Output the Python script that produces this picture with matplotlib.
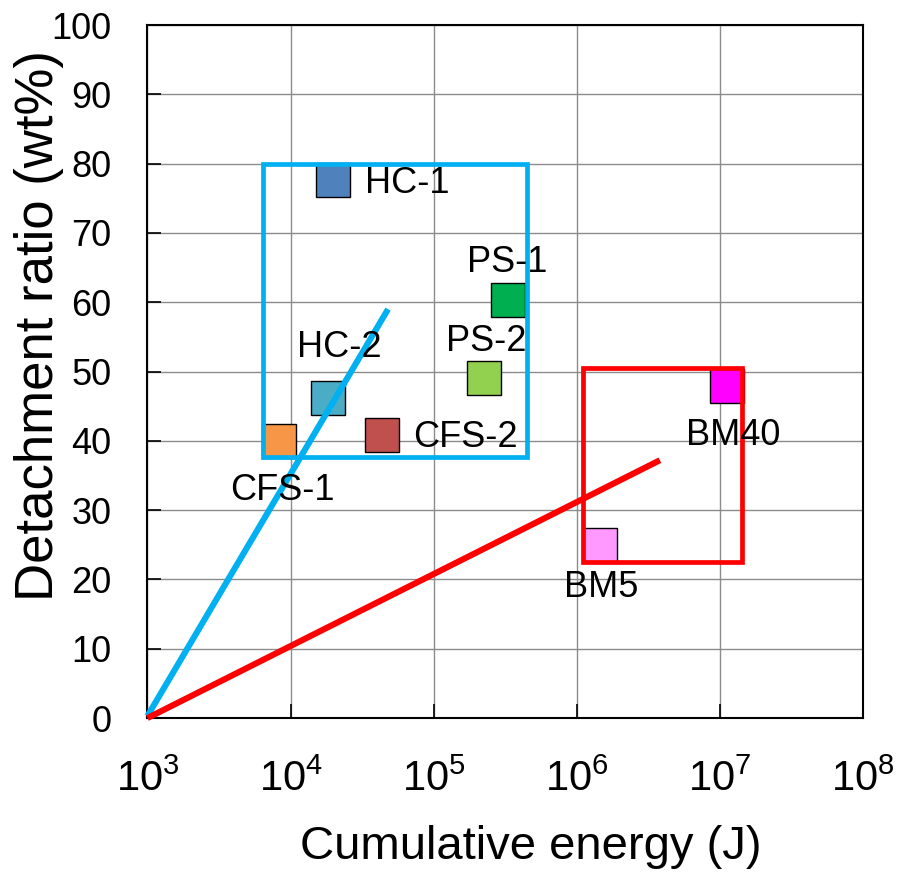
import matplotlib
matplotlib.use("Agg")
import matplotlib.pyplot as plt
from matplotlib.patches import Rectangle
from matplotlib.ticker import FixedLocator, NullLocator

plt.rcParams['font.family'] = ['Liberation Sans', 'DejaVu Sans']
plt.rcParams['mathtext.fontset'] = 'custom'
plt.rcParams['mathtext.rm'] = 'Liberation Sans'
plt.rcParams['mathtext.it'] = 'Liberation Sans'

# Data
samples = ["HC-1", "PS-1", "PS-2", "HC-2", "CFS-2", "CFS-1", "BM40", "BM5"]
energy = [1.99e4, 3.30e5, 2.26e5, 1.84e4, 4.35e4, 8.3e3, 1.13e7, 1.45e6]
ratio = [77.6, 60.3, 49.1, 46.2, 40.9, 40.0, 47.9, 24.9]
colors = ["#4F81BD", "#00B050", "#92D050", "#4BACC6", "#C0504D", "#F79646", "#FF00FF", "#FF99FF"]

label_x = [3.3e4, 3.25e5, 2.32e5, 2.18e4, 7.16e4, 8.7e3, 1.23e7, 1.48e6]
label_y = [77.2, 65.8, 54.3, 53.5, 40.5, 32.9, 40.8, 18.8]
label_ha = ["left", "center", "center", "center", "left", "center", "center", "center"]

blue_line_x = [1.0e3, 4.8e4]
blue_line_y = [0.3, 59.0]
red_line_x = [1.0e3, 3.81e6]
red_line_y = [0.0, 37.2]

blue_box = (6.38e3, 4.47e5, 37.6, 80.0)   # x0, x1, y0, y1
red_box = (1.10e6, 1.42e7, 22.55, 50.5)

xticks = [1e3, 1e4, 1e5, 1e6, 1e7, 1e8]
xticklabels = [r"$\mathdefault{10^{3}}$", r"$\mathdefault{10^{4}}$", r"$\mathdefault{10^{5}}$",
               r"$\mathdefault{10^{6}}$", r"$\mathdefault{10^{7}}$", r"$\mathdefault{10^{8}}$"]
yticks = list(range(0, 101, 10))

fig = plt.figure(figsize=(9.08, 8.75), dpi=100)
ax = fig.add_axes([0.1624, 0.1794, 0.788, 0.792])
ax.set_xscale("log")
ax.set_xlim(1e3, 1e8)
ax.set_ylim(0, 100)

ax.grid(True, color="#8c8c8c", linewidth=1.0, zorder=0)
ax.set_axisbelow(True)

for e, r, c in zip(energy, ratio, colors):
    ax.plot([e], [r], marker="s", markersize=24.5, markerfacecolor=c,
            markeredgecolor="black", markeredgewidth=1.0, linestyle="none", zorder=3)

for bx, col in ((blue_box, "#00B0F0"), (red_box, "#FF0000")):
    x0, x1, y0, y1 = bx
    rect = Rectangle((x0, y0), x1 - x0, y1 - y0, fill=False, edgecolor=col,
                     linewidth=3.4, zorder=4, joinstyle="miter")
    ax.add_patch(rect)

ax.plot(blue_line_x, blue_line_y, color="#00B0F0", linewidth=4.4, zorder=5,
        solid_capstyle="butt", clip_on=False)
ax.plot(red_line_x, red_line_y, color="#FF0000", linewidth=4.4, zorder=5,
        solid_capstyle="butt", clip_on=False)

for s, lx, ly, ha in zip(samples, label_x, label_y, label_ha):
    ax.text(lx, ly, s, fontsize=26, ha=ha, va="center", zorder=6)

ax.xaxis.set_major_locator(FixedLocator(xticks))
ax.xaxis.set_minor_locator(NullLocator())
ax.set_xticklabels(xticklabels)
ax.set_yticks(yticks)
ax.tick_params(axis="x", direction="in", length=10, width=1.2, labelsize=30, pad=30)
ax.tick_params(axis="y", direction="in", length=10, width=1.2, labelsize=26, pad=26)
for sp in ax.spines.values():
    sp.set_linewidth(1.5)
    sp.set_color("black")

ax.set_xlabel("Cumulative energy (J)", fontsize=34)
ax.xaxis.set_label_coords(0.536, -0.155)
ax.set_ylabel("Detachment ratio (wt%)", fontsize=38)
ax.yaxis.set_label_coords(-0.117, 0.567)

fig.savefig("out.png", dpi=100)
